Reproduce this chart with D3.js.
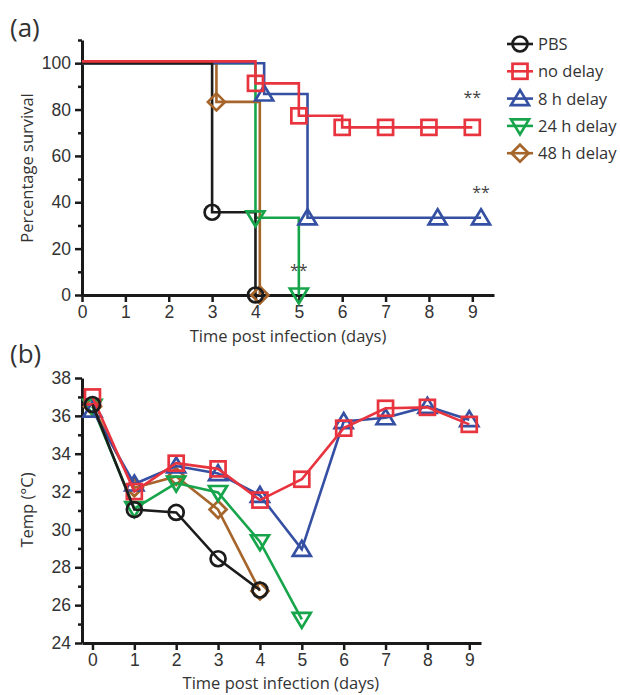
<!DOCTYPE html>
<html>
<head>
<meta charset="utf-8">
<script src="https://cdn.jsdelivr.net/npm/d3@7"></script>
<style>
body { margin: 0; background: #fff; }
svg { font-family: "Open Sans", "Noto Sans", sans-serif; }
</style>
</head>
<body>
<svg id="chart" width="620" height="695"></svg>
<script>
// series names + colours
var groups = ["PBS", "no delay", "8 h delay", "24 h delay", "48 h delay"];
var colors = ["#1c1c1c", "#e8343e", "#3550a3", "#17a54b", "#a5652b"];
var shapes = ["circle", "square", "triUp", "triDown", "diamond"];

// (a) survival, [day, %]
var survPBS = [[0, 100], [3, 35.7], [4, 0]];
var survNoDelay = [[0, 100.8], [4, 91.3], [5, 77.3], [6, 72.3], [7, 72.3], [8, 72.3], [9, 72.3]];
var surv8h = [[0, 100], [4.2, 86.7], [5.2, 33.3], [8.2, 33.3], [9.2, 33.3]];
var surv24h = [[0, 100], [4, 33.3], [5, 0]];
var surv48h = [[0, 100], [3.1, 83.3], [4.1, 0]];
var survival = [survPBS, survNoDelay, surv8h, surv24h, surv48h];
var stars = [[9, 83], [9.2, 42], [5, 8]];

// (b) temperature by day
var tempDays = [0, 1, 2, 3, 4, 5, 6, 7, 8, 9];
var tempPBS = [36.6, 31.05, 30.9, 28.45, 26.8];
var tempNoDelay = [37.0, 32.0, 33.5, 33.2, 31.55, 32.65, 35.35, 36.4, 36.45, 35.55];
var temp8h = [36.3, 32.4, 33.35, 32.95, 31.8, 28.95, 35.7, 35.9, 36.5, 35.8];
var temp24h = [36.5, 31.1, 32.45, 31.95, 29.35, 25.25];
var temp48h = [36.5, 32.2, 32.8, 31.05, 26.75];
var temps = [tempPBS, tempNoDelay, temp8h, temp24h, temp48h];

var xTicksA = [0, 1, 2, 3, 4, 5, 6, 7, 8, 9];
var yTicksA = [0, 20, 40, 60, 80, 100];
var yTicksB = [24, 26, 28, 30, 32, 34, 36, 38];

var svg = d3.select("#chart");
var ink = "#333";

function marker(g, shape, cx, cy, col) {
	var s;
	if (shape == "circle") {
		s = g.append("circle").attr("cx", cx).attr("cy", cy).attr("r", 7.5);
	} else if (shape == "square") {
		s = g.append("rect").attr("x", cx - 7.5).attr("y", cy - 7.5).attr("width", 15).attr("height", 15);
	} else if (shape == "triUp") {
		s = g.append("path").attr("d", "M" + cx + "," + (cy - 8.5) + "L" + (cx + 9) + "," + (cy + 6.5) + "L" + (cx - 9) + "," + (cy + 6.5) + "Z");
	} else if (shape == "triDown") {
		s = g.append("path").attr("d", "M" + cx + "," + (cy + 8.5) + "L" + (cx + 9) + "," + (cy - 6.5) + "L" + (cx - 9) + "," + (cy - 6.5) + "Z");
	} else {
		s = g.append("path").attr("d", "M" + cx + "," + (cy - 8.5) + "L" + (cx + 8.5) + "," + cy + "L" + cx + "," + (cy + 8.5) + "L" + (cx - 8.5) + "," + cy + "Z");
	}
	s.attr("fill", "none").attr("stroke", col).attr("stroke-width", 2.7);
}

function styleAxis(ax) {
	ax.select(".domain").attr("stroke", "#1a1a1a").attr("stroke-width", 3);
	ax.selectAll(".tick line").attr("stroke", "#1a1a1a").attr("stroke-width", 2.5);
	ax.selectAll("text").attr("fill", ink).style("font-size", "17.5px");
}

// ---------- panel (a) ----------
var xA = d3.scaleLinear().domain([0, 9.5]).range([82, 494]);
var yA = d3.scaleLinear().domain([0, 110]).range([295, 40]);

svg.append("text").attr("x", 10).attr("y", 37).attr("fill", ink).style("font-size", "26px").text("(a)");

var gA = svg.append("g");
var axA = gA.append("g").attr("transform", "translate(0,295)")
	.call(d3.axisBottom(xA).tickValues(xTicksA).tickSize(7).tickSizeOuter(0).tickPadding(4));
styleAxis(axA);
var ayA = gA.append("g").attr("transform", "translate(82,0)")
	.call(d3.axisLeft(yA).tickValues(d3.range(0, 111, 10)).tickSize(7).tickSizeOuter(0).tickPadding(4)
		.tickFormat(function(d) { return yTicksA.indexOf(d) >= 0 ? d : ""; }));
styleAxis(ayA);
ayA.selectAll(".tick line").attr("x2", function(d) { return yTicksA.indexOf(d) >= 0 ? -7 : -4; });

gA.append("text").attr("transform", "translate(33,168) rotate(-90)").attr("text-anchor", "middle")
	.attr("fill", ink).style("font-size", "16.5px").text("Percentage survival");
gA.append("text").attr("x", xA(4.75)).attr("y", 342).attr("text-anchor", "middle")
	.attr("fill", ink).style("font-size", "16.5px").text("Time post infection (days)");

var stepLine = d3.line().x(function(d) { return xA(d[0]); }).y(function(d) { return yA(d[1]); }).curve(d3.curveStepAfter);
var orderA = [3, 4, 2, 0, 1];
orderA.forEach(function(i) {
	gA.append("path").datum(survival[i]).attr("d", stepLine)
		.attr("fill", "none").attr("stroke", colors[i]).attr("stroke-width", 2.6);
});
orderA.forEach(function(i) {
	survival[i].slice(1).forEach(function(d) {
		marker(gA, shapes[i], xA(d[0]), yA(d[1]), colors[i]);
	});
});
stars.forEach(function(d) {
	gA.append("text").attr("x", xA(d[0])).attr("y", yA(d[1])).attr("text-anchor", "middle")
		.attr("fill", "#444").style("font-size", "16px").text("**");
});

// legend
var leg = svg.append("g");
groups.forEach(function(name, i) {
	var y = 44 + i * 27.3;
	leg.append("line").attr("x1", 507).attr("x2", 533).attr("y1", y).attr("y2", y)
		.attr("stroke", colors[i]).attr("stroke-width", 2.6);
	marker(leg, shapes[i], 520, y, colors[i]);
	leg.append("text").attr("x", 538).attr("y", y + 6).attr("fill", ink)
		.style("font-size", "16.5px").text(name);
});

// ---------- panel (b) ----------
var xB = d3.scaleLinear().domain([-0.25, 9.28]).range([82, 481]);
var yB = d3.scaleLinear().domain([24, 38]).range([643, 378]);

svg.append("text").attr("x", 10).attr("y", 363).attr("fill", ink).style("font-size", "26px").text("(b)");

var gB = svg.append("g");
var axB = gB.append("g").attr("transform", "translate(0,643)")
	.call(d3.axisBottom(xB).tickValues(tempDays).tickSize(7).tickSizeOuter(0).tickPadding(4));
styleAxis(axB);
var ayB = gB.append("g").attr("transform", "translate(82,0)")
	.call(d3.axisLeft(yB).tickValues(d3.range(24, 38.1, 1)).tickSize(7).tickSizeOuter(0).tickPadding(4)
		.tickFormat(function(d) { return yTicksB.indexOf(d) >= 0 ? d : ""; }));
styleAxis(ayB);
ayB.selectAll(".tick line").attr("x2", function(d) { return yTicksB.indexOf(d) >= 0 ? -7 : -4; });

gB.append("text").attr("transform", "translate(33,510) rotate(-90)").attr("text-anchor", "middle")
	.attr("fill", ink).style("font-size", "16.5px").text("Temp (°C)");
gB.append("text").attr("x", xB(4.5)).attr("y", 689).attr("text-anchor", "middle")
	.attr("fill", ink).style("font-size", "16.5px").text("Time post infection (days)");

var tLine = d3.line().x(function(d, j) { return xB(tempDays[j]); }).y(function(d) { return yB(d); });
var orderB = [4, 3, 2, 1, 0];
orderB.forEach(function(i) {
	gB.append("path").datum(temps[i]).attr("d", tLine)
		.attr("fill", "none").attr("stroke", colors[i]).attr("stroke-width", 2.6);
	temps[i].forEach(function(v, j) {
		marker(gB, shapes[i], xB(tempDays[j]), yB(v), colors[i]);
	});
});
</script>
</body>
</html>
